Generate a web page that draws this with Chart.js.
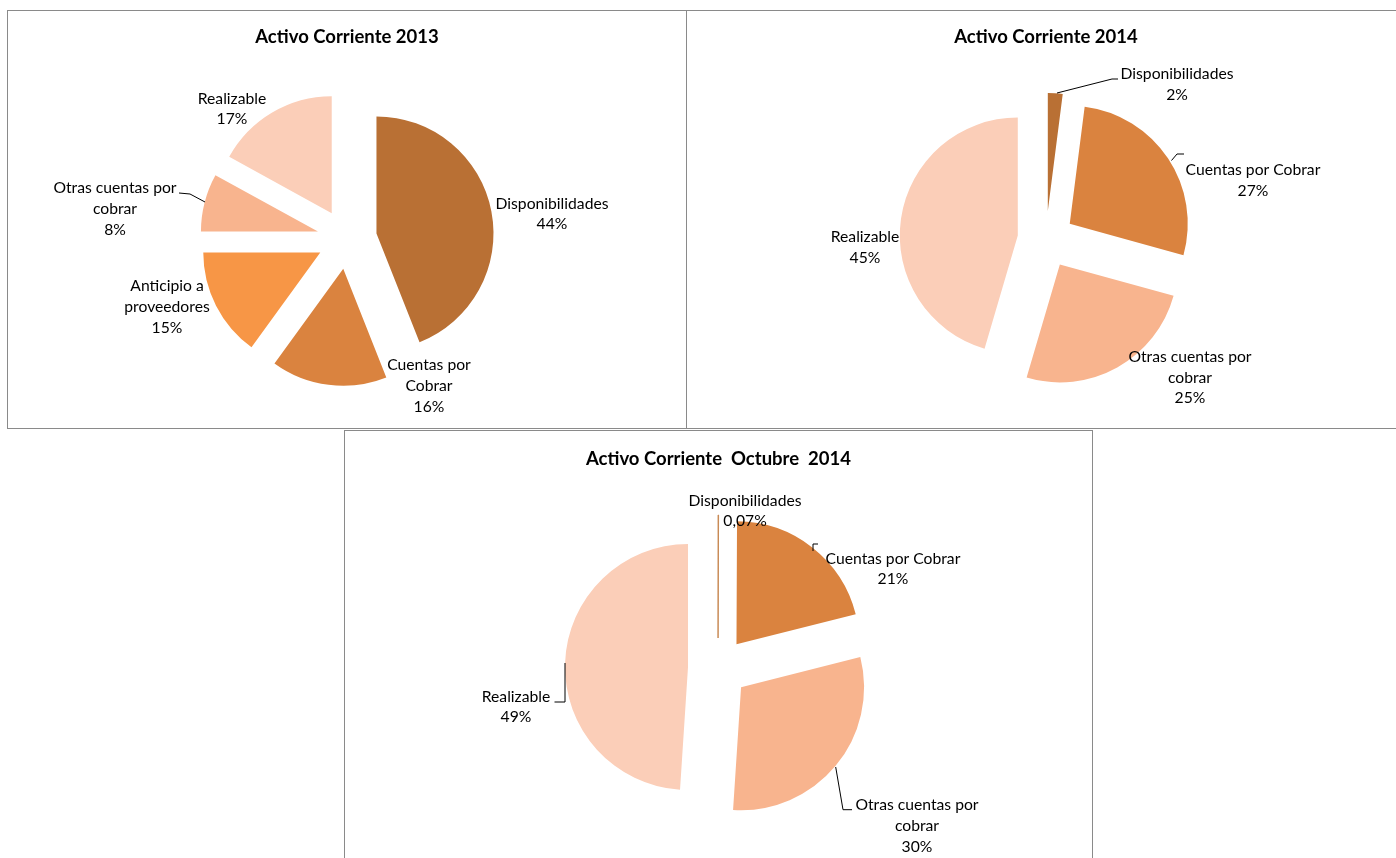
<!DOCTYPE html>
<html>
<head>
<meta charset="utf-8">
<script src="https://cdn.jsdelivr.net/npm/chart.js@4.4.1/dist/chart.umd.min.js"></script>
<style>
  body { margin: 0; background: #fff; width: 1396px; height: 858px; overflow: hidden; position: relative; }
  .box { position: absolute; border: 1px solid #8a8a8a; box-sizing: border-box; background: #fff; }
  .box canvas { display: block; }
</style>
</head>
<body>
<div class="box" id="box1" style="left:7px;top:10px;width:680px;height:419px"><canvas id="c1"></canvas></div>
<div class="box" id="box2" style="left:686px;top:10px;width:720px;height:419px"><canvas id="c2"></canvas></div>
<div class="box" id="box3" style="left:344px;top:430px;width:749px;height:440px"><canvas id="c3"></canvas></div>

<script>
// ---- data ----
const title2013 = 'Activo Corriente 2013';
const title2014 = 'Activo Corriente 2014';
const titleOct = 'Activo Corriente  Octubre  2014';

const cats2013 = ['Disponibilidades', 'Cuentas por Cobrar', 'Anticipio a proveedores', 'Otras cuentas por cobrar', 'Realizable'];
const vals2013 = [44, 16, 15, 8, 17];

const cats2014 = ['Disponibilidades', 'Cuentas por Cobrar', 'Otras cuentas por cobrar', 'Realizable'];
const vals2014 = [2, 27, 25, 45];

const catsOct = ['Disponibilidades', 'Cuentas por Cobrar', 'Otras cuentas por cobrar', 'Realizable'];
const valsOct = [0.07, 21, 30, 49];

// ---- styling ----
const colors2013 = ['#B97034', '#DA833F', '#F79646', '#F8B48E', '#FBCEB8'];
const colors2014 = ['#B97034', '#DA833F', '#F8B48E', '#FBCEB8'];
const colorsOct = ['#C98A55', '#DA833F', '#F8B48E', '#FBCEB8'];

const LABEL_FONT = '15.7px Lato';
const TITLE_FONT = 'bold 18.5px Lato';
const LINE_H = 20.7;

// label placement relative to the pie centre (Excel "best fit" look)
const layout2013 = {
  labels: [
    { dx: 205, dy: -25, wrap: 200 },
    { dx: 82, dy: 147, wrap: 100 },
    { dx: -180, dy: 68, wrap: 100 },
    { dx: -232, dy: -30, wrap: 140 },
    { dx: -115, dy: -130, wrap: 200 },
  ],
  leaders: [
    [[-168, -46], [-157, -45], [-142, -37]],
  ],
};
const layout2014 = {
  labels: [
    { dx: 131, dy: -155, wrap: 200 },
    { dx: 207, dy: -59, wrap: 200 },
    { dx: 144, dy: 138, wrap: 140 },
    { dx: -181, dy: 8, wrap: 200 },
  ],
  leaders: [
    [[72, -160.5], [66, -160.5], [11, -146.5]],
    [[138, -85.5], [131, -85.5], [125.5, -79]],
  ],
};
const layoutOct = {
  labels: [
    { dx: 27, dy: -157, wrap: 200 },
    { dx: 175, dy: -99, wrap: 200 },
    { dx: 199, dy: 158, wrap: 140 },
    { dx: -202, dy: 39, wrap: 200 },
  ],
  leaders: [
    [[100, -124], [95, -124], [95, -117]],
    [[-163.5, 34], [-153, 34], [-153, -5]],
    [[134, 141.7], [125, 141.7], [117.7, 99]],
  ],
};

function pctText(v) {
  return String(v).replace('.', ',') + '%';
}

function wrapWords(ctx, text, maxW) {
  const words = text.split(' ');
  const lines = [];
  let cur = '';
  words.forEach(w => {
    const test = cur ? cur + ' ' + w : w;
    if (cur && ctx.measureText(test).width > maxW) {
      lines.push(cur);
      cur = w;
    } else {
      cur = test;
    }
  });
  if (cur) lines.push(cur);
  return lines;
}

// push every slice out by the same distance (Chart.js' own offset also grows the radius)
const explodePlugin = {
  id: 'explode',
  afterUpdate(chart, args, opts) {
    chart.getDatasetMeta(0).data.forEach(arc => {
      const mid = (arc.startAngle + arc.endAngle) / 2;
      arc.x += Math.cos(mid) * opts.dist;
      arc.y += Math.sin(mid) * opts.dist;
    });
  },
};

const labelPlugin = {
  id: 'pieLabels',
  afterDraw(chart, args, opts) {
    const { ctx, chartArea } = chart;
    const cx = (chartArea.left + chartArea.right) / 2;
    const cy = (chartArea.top + chartArea.bottom) / 2;
    const ds = chart.data.datasets[0];
    ctx.save();
    // title
    ctx.font = TITLE_FONT;
    ctx.fillStyle = '#000';
    ctx.textAlign = 'center';
    ctx.textBaseline = 'middle';
    ctx.fillText(opts.title, chart.width / 2, opts.titleY);
    // leader lines
    ctx.strokeStyle = '#000';
    ctx.lineWidth = 1;
    opts.layout.leaders.forEach(pts => {
      ctx.beginPath();
      pts.forEach((p, i) => {
        if (i === 0) ctx.moveTo(cx + p[0], cy + p[1]);
        else ctx.lineTo(cx + p[0], cy + p[1]);
      });
      ctx.stroke();
    });
    // labels
    ctx.font = LABEL_FONT;
    chart.data.labels.forEach((name, i) => {
      const L = opts.layout.labels[i];
      const lines = wrapWords(ctx, name, L.wrap);
      lines.push(pctText(ds.data[i]));
      const top = cy + L.dy - (lines.length - 1) * LINE_H / 2;
      lines.forEach((t, k) => ctx.fillText(t, cx + L.dx, top + k * LINE_H));
    });
    ctx.restore();
  },
};

function makePie(canvasId, boxId, cats, vals, colors, title, layout, centre, radius, dist, titleY) {
  const box = document.getElementById(boxId);
  const W = box.clientWidth, H = box.clientHeight;
  const el = document.getElementById(canvasId);
  el.width = W;
  el.height = H;
  // centre given in page coords -> canvas coords
  const px = centre[0] - box.offsetLeft - 1;
  const py = centre[1] - box.offsetTop - 1;
  const s = Math.min(px, W - px, py, H - py);
  new Chart(el, {
    type: 'pie',
    data: {
      labels: cats,
      datasets: [{
        data: vals,
        backgroundColor: colors,
        borderWidth: c => (c.dataset.data[c.dataIndex] < 1 ? 1 : 0),
        borderColor: colors,
        hoverOffset: 0,
      }],
    },
    options: {
      responsive: false,
      animation: false,
      events: [],
      radius: radius,
      layout: { padding: { left: px - s, right: W - px - s, top: py - s, bottom: H - py - s } },
      plugins: {
        legend: { display: false },
        tooltip: { enabled: false },
        explode: { dist: dist },
        pieLabels: { title: title, layout: layout, titleY: titleY },
      },
    },
    plugins: [explodePlugin, labelPlugin],
  });
}

makePie('c1', 'box1', cats2013, vals2013, colors2013, title2013, layout2013, [347, 239], 117, 30, 26);
makePie('c2', 'box2', cats2014, vals2014, colors2014, title2014, layout2014, [1046, 239.5], 118, 28.5, 26);
makePie('c3', 'box3', catsOct, valsOct, colorsOct, titleOct, layoutOct, [718, 668], 123, 30, 28);
</script>
</body>
</html>
